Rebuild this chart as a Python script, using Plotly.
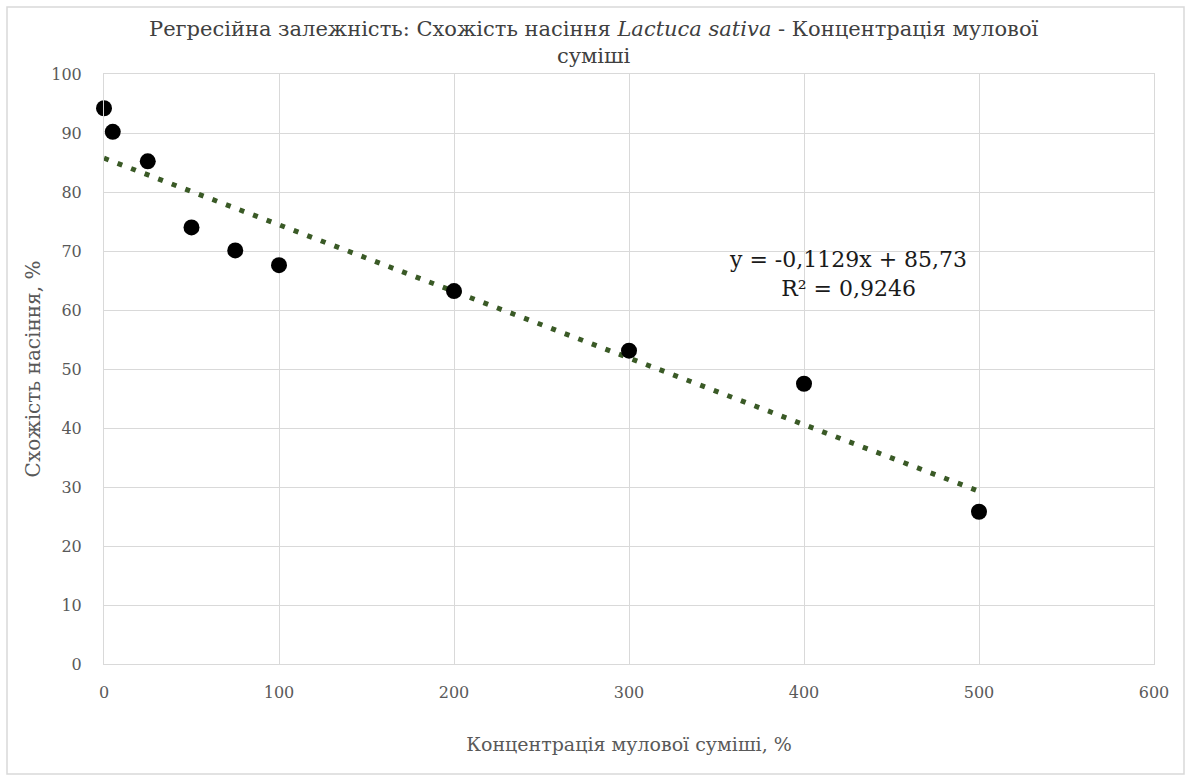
import plotly.graph_objects as go

# Data
concentration = [0, 5, 25, 50, 75, 100, 200, 300, 400, 500]
germination = [94.2, 90.2, 85.2, 74.0, 70.1, 67.6, 63.2, 53.1, 47.5, 25.8]
trend_slope = -0.1129
trend_intercept = 85.73
r_squared = 0.9246
x_ticks = [0, 100, 200, 300, 400, 500, 600]
y_ticks = [0, 10, 20, 30, 40, 50, 60, 70, 80, 90, 100]

trend_x = [min(concentration), max(concentration)]
trend_y = [trend_slope * v + trend_intercept for v in trend_x]

FONT = "DejaVu Serif, serif"
GRID = "#d9d9d9"

# layout geometry (pixels)
W, H = 1189, 776
L, R, T, B = 104, 35, 74, 112
pw, ph = W - L - R, H - T - B


def px_to_paper_x(p):
    return (p - L) / pw


def px_to_paper_y(p):
    return (H - B - p) / ph


fig = go.Figure()
fig.add_trace(go.Scatter(
    x=trend_x, y=trend_y, mode="lines",
    line=dict(color="#3a5a26", width=5, dash="5px,9.5px"),
    showlegend=False, hoverinfo="skip"))
fig.add_trace(go.Scatter(
    x=concentration, y=germination, mode="markers",
    marker=dict(color="black", size=16),
    cliponaxis=False, showlegend=False))


def fmt(v, d):
    return f"{v:.{d}f}".replace(".", ",")


eq = f"y = {fmt(trend_slope, 4)}x + {fmt(trend_intercept, 2)}<br>R² = {fmt(r_squared, 4)}"
fig.add_annotation(x=px_to_paper_x(848), y=px_to_paper_y(245), xref="paper", yref="paper",
                   text=eq, showarrow=False,
                   font=dict(family=FONT, size=22, color="#1a1a1a"), align="center",
                   xanchor="center", yanchor="top")

# title as annotation (centered on the page)
fig.add_annotation(x=px_to_paper_x(594), y=px_to_paper_y(15), xref="paper", yref="paper",
                   text="Регресійна залежність: Схожість насіння <i>Lactuca sativa</i> - Концентрація мулової<br>суміші",
                   showarrow=False, align="center", xanchor="center", yanchor="top",
                   font=dict(family=FONT, size=21, color="#404040"))

fig.add_shape(type="rect", xref="paper", yref="paper",
              x0=px_to_paper_x(7), x1=px_to_paper_x(1184),
              y0=px_to_paper_y(774), y1=px_to_paper_y(7),
              line=dict(color="#d9d9d9", width=1.5), layer="below")

fig.update_layout(
    width=W, height=H,
    margin=dict(l=L, r=R, t=T, b=B),
    paper_bgcolor="white", plot_bgcolor="white",
    font=dict(family=FONT, color="#595959"),
    xaxis=dict(range=[0, 600], tickvals=x_ticks, showgrid=True, gridcolor=GRID, gridwidth=1,
               zeroline=False, showline=True, linecolor=GRID, linewidth=1, mirror=True,
               ticks="", ticklabelstandoff=14,
               tickfont=dict(family=FONT, size=16, color="#595959"),
               title=dict(text="Концентрація мулової суміші, %", standoff=36,
                          font=dict(family=FONT, size=19, color="#595959"))),
    yaxis=dict(range=[0, 100], tickvals=y_ticks, showgrid=True, gridcolor=GRID, gridwidth=1,
               zeroline=False, showline=True, linecolor=GRID, linewidth=1, mirror=True,
               ticks="", ticklabelstandoff=18,
               tickfont=dict(family=FONT, size=16, color="#595959"),
               title=dict(text="Схожість насіння, %", standoff=5,
                          font=dict(family=FONT, size=20, color="#595959"))),
)

fig.write_html("out.html")
